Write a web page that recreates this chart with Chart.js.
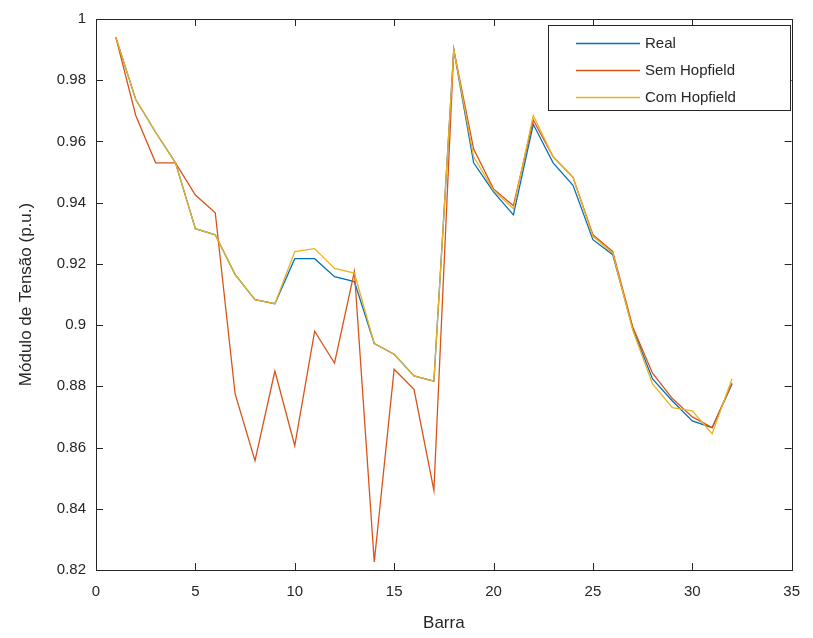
<!DOCTYPE html>
<html>
<head>
<meta charset="utf-8">
<script src="https://cdn.jsdelivr.net/npm/chart.js@4/dist/chart.umd.min.js"></script>
<style>
  html, body { margin: 0; padding: 0; background: #fff; }
  #wrap { width: 813px; height: 638px; }
</style>
</head>
<body>
<div id="wrap"><canvas id="chart" width="813" height="638"></canvas></div>
<script>
// bus numbers
const barras = [1,2,3,4,5,6,7,8,9,10,11,12,13,14,15,16,17,18,19,20,21,22,23,24,25,26,27,28,29,30,31,32]

const real = [0.994, 0.9737, 0.963, 0.953, 0.9315, 0.9295, 0.9165, 0.9083, 0.907, 0.9217, 0.9217, 0.9158,
  0.9142, 0.894, 0.8905, 0.8834, 0.8817, 0.990, 0.953, 0.9435, 0.936, 0.9656, 0.953, 0.9457,
  0.9279, 0.923, 0.899, 0.8824, 0.8752, 0.8687, 0.8665, 0.8808]

const semHopfield = [0.994, 0.9685, 0.953, 0.953, 0.9425, 0.9367, 0.8775, 0.8557, 0.885, 0.8606, 0.898, 0.8876,
  0.9175, 0.8226, 0.8856, 0.879, 0.846, 0.990, 0.9575, 0.9445, 0.939, 0.967, 0.955, 0.9483,
  0.9295, 0.924, 0.8995, 0.8843, 0.876, 0.870, 0.8665, 0.881]

const comHopfield = [0.994, 0.9737, 0.963, 0.953, 0.9315, 0.9295, 0.9165, 0.9083, 0.907, 0.924, 0.925, 0.9185,
  0.917, 0.894, 0.8905, 0.8834, 0.8817, 0.990, 0.955, 0.944, 0.938, 0.9685, 0.955, 0.9483,
  0.929, 0.9235, 0.8985, 0.8808, 0.873, 0.872, 0.8645, 0.8825]

const xTicks = [0, 5, 10, 15, 20, 25, 30, 35]
const yTicks = [0.82, 0.84, 0.86, 0.88, 0.9, 0.92, 0.94, 0.96, 0.98, 1]

const seriesLabels = ['Real', 'Sem Hopfield', 'Com Hopfield']
const seriesColors = ['#0072BD', '#D95319', '#EDB120']

function toPoints(values){
    let pts = []
    for (let i = 0; i < values.length; i++) {
        pts.push({x: barras[i], y: values[i]})
    }
    return pts
}

const fontFamily = "'Liberation Sans', Arial, sans-serif"
const textColor = '#262626'

// matlab style box with inward ticks + legend inside the axes
const boxPlugin = {
    id: 'boxPlugin',
    afterDraw(chart){
        const ctx = chart.ctx
        const a = chart.chartArea
        const xs = chart.scales.x
        const ys = chart.scales.y
        ctx.save()
        ctx.strokeStyle = '#262626'
        ctx.lineWidth = 1
        ctx.strokeRect(Math.round(a.left) + 0.5, Math.round(a.top) + 0.5,
                       Math.round(a.right - a.left), Math.round(a.bottom - a.top))
        const tl = 7
        ctx.beginPath()
        for (let i = 0; i < xTicks.length; i++) {
            let px = Math.round(xs.getPixelForValue(xTicks[i])) + 0.5
            ctx.moveTo(px, a.bottom); ctx.lineTo(px, a.bottom - tl)
            ctx.moveTo(px, a.top); ctx.lineTo(px, a.top + tl)
        }
        for (let i = 0; i < yTicks.length; i++) {
            let py = Math.round(ys.getPixelForValue(yTicks[i])) + 0.5
            ctx.moveTo(a.left, py); ctx.lineTo(a.left + tl, py)
            ctx.moveTo(a.right, py); ctx.lineTo(a.right - tl, py)
        }
        ctx.stroke()

        // legend
        const lx = 548.5, ly = 25.5, lw = 242, lh = 85
        ctx.fillStyle = '#fff'
        ctx.fillRect(lx, ly, lw, lh)
        ctx.strokeRect(lx, ly, lw, lh)
        ctx.font = '15px ' + fontFamily
        ctx.textBaseline = 'middle'
        ctx.textAlign = 'left'
        for (let i = 0; i < seriesLabels.length; i++) {
            let rowY = Math.round(ly + 17 + i * 27) + 0.5
            ctx.strokeStyle = seriesColors[i]
            ctx.lineWidth = 1.5
            ctx.beginPath()
            ctx.moveTo(576, rowY); ctx.lineTo(640, rowY)
            ctx.stroke()
            ctx.fillStyle = textColor
            ctx.fillText(seriesLabels[i], 645, rowY)
        }
        ctx.restore()
    }
}

const datasets = []
const allSeries = [real, semHopfield, comHopfield]
for (let i = 0; i < allSeries.length; i++) {
    datasets.push({
        label: seriesLabels[i],
        data: toPoints(allSeries[i]),
        borderColor: seriesColors[i],
        backgroundColor: seriesColors[i],
        borderWidth: 1.3,
        pointRadius: 0,
        tension: 0,
        fill: false,
        order: 3 - i
    })
}

new Chart(document.getElementById('chart').getContext('2d'), {
    type: 'line',
    data: { datasets: datasets },
    options: {
        responsive: false,
        animation: false,
        devicePixelRatio: 1,
        layout: { padding: { top: 16, right: 15, left: 0, bottom: 0 } },
        plugins: { legend: { display: false }, tooltip: { enabled: false } },
        scales: {
            x: {
                type: 'linear',
                min: 0, max: 35,
                afterBuildTicks: (s) => { s.ticks = xTicks.map(v => ({value: v})) },
                afterFit: (s) => { s.height = 68 },
                grid: { display: false, drawTicks: false },
                border: { display: false },
                ticks: { color: textColor, font: { family: fontFamily, size: 15 }, padding: 13, maxRotation: 0 },
                title: { display: true, text: 'Barra', color: textColor,
                         font: { family: fontFamily, size: 17 }, padding: { top: 5 } }
            },
            y: {
                type: 'linear',
                min: 0.82, max: 1,
                afterBuildTicks: (s) => { s.ticks = yTicks.map(v => ({value: v})) },
                afterFit: (s) => { s.width = 96 },
                grid: { display: false, drawTicks: false },
                border: { display: false },
                ticks: { color: textColor, font: { family: fontFamily, size: 15 }, padding: 10,
                         callback: (v) => String(Math.round(v * 100) / 100) },
                title: { display: true, text: 'Módulo de Tensão (p.u.)', color: textColor,
                         font: { family: fontFamily, size: 17 }, padding: { top: 16, bottom: 0 } }
            }
        }
    },
    plugins: [boxPlugin]
})
</script>
</body>
</html>
